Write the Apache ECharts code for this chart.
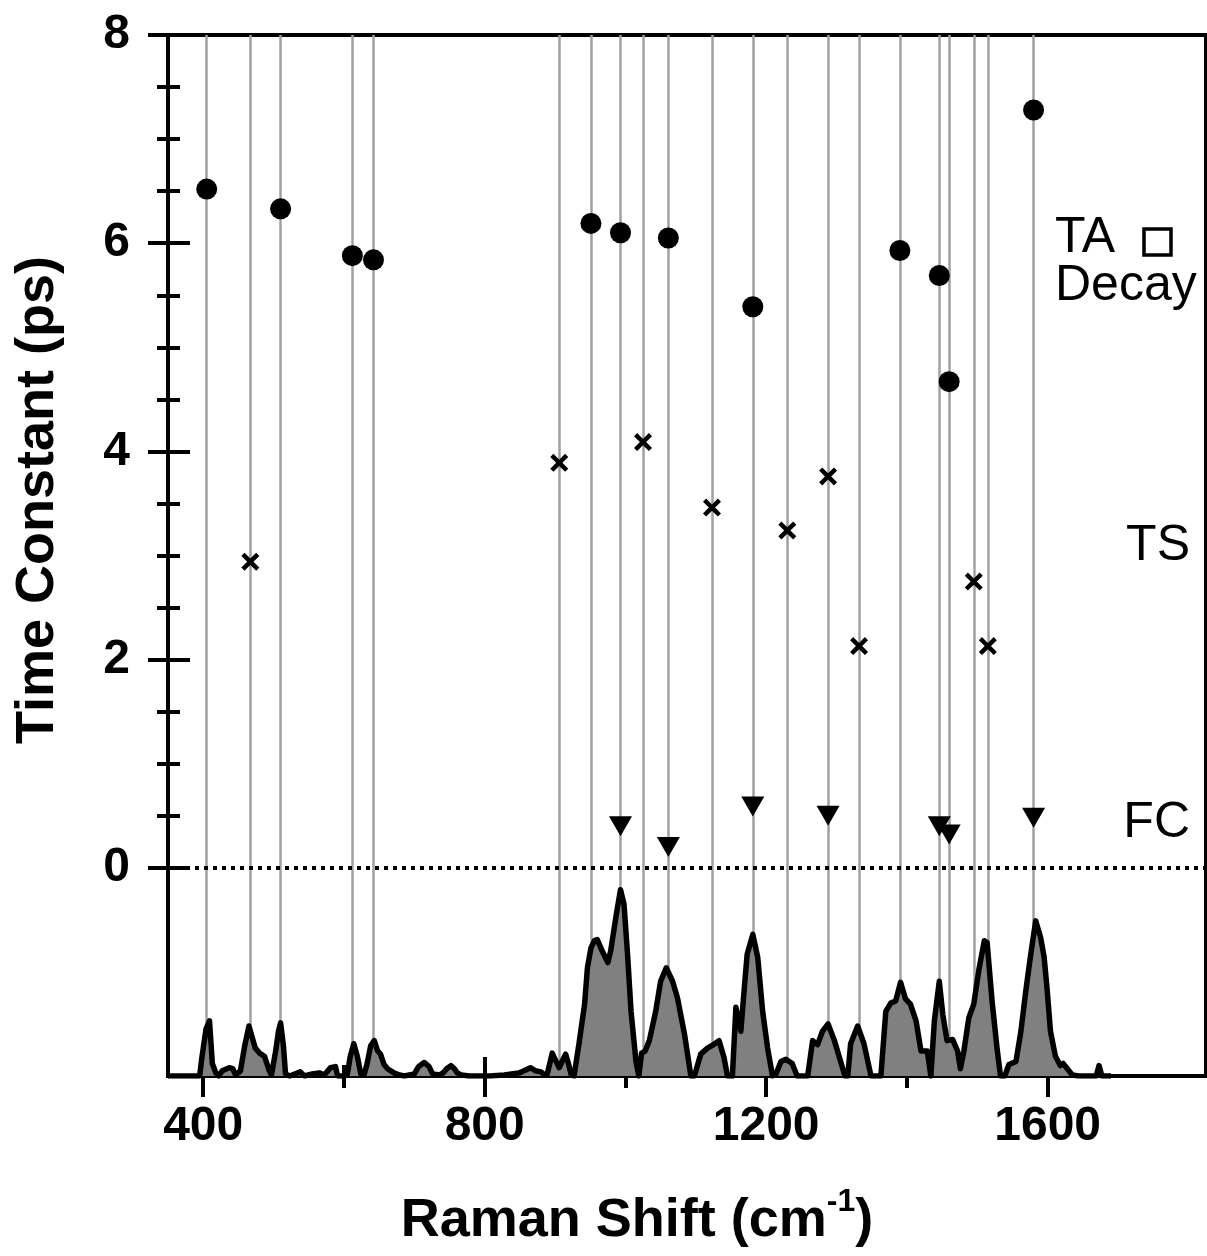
<!DOCTYPE html>
<html><head><meta charset="utf-8">
<script src="https://cdn.jsdelivr.net/npm/echarts@6/dist/echarts.min.js"></script>
<style>html,body{margin:0;padding:0;background:#fff}#c{width:1207px;height:1256px}</style>
</head><body><div id="c"></div>
<script>
// ---- data ----
const taDecayX = [405, 510, 612, 642, 951, 993, 1061, 1181, 1390, 1446, 1460, 1580];
const taDecayY = [6.52, 6.33, 5.88, 5.84, 6.19, 6.10, 6.05, 5.39, 5.93, 5.69, 4.67, 7.28];
const tsX = [467, 906, 1025, 1123, 1230, 1288, 1332, 1495, 1515];
const tsY = [2.94, 3.89, 4.09, 3.46, 3.24, 3.76, 2.13, 2.75, 2.13];
const fcX = [993, 1061, 1181, 1288, 1446, 1460, 1580];
const fcY = [0.40, 0.20, 0.59, 0.50, 0.40, 0.32, 0.48];
// Raman spectrum: [wavenumber, relative intensity]
const spectrum = [
 [350,0],[395,0],[398,0.17],[404,0.45],[409,0.53],[413,0.12],[418,0.03],[422,0],[427,0.05],[437,0.08],
 [442,0.07],[446,0.01],[453,0.05],[459,0.29],[465,0.48],[474,0.27],[480,0.22],[487,0.19],[494,0.05],[497,0.01],
 [503,0.24],[507,0.43],[510,0.51],[514,0.29],[517,0.02],[523,0],[538,0.04],[544,0],[555,0.02],[565,0.03],
 [572,0.01],[581,0.08],[588,0.09],[591,0],[601,0],[605,0.02],[609,0.19],[614,0.31],[619,0.19],[624,0.02],
 [629,0.02],[633,0.12],[638,0.29],[643,0.34],[648,0.24],[652,0.21],[657,0.11],[662,0.07],[671,0.03],[679,0.01],
 [686,0],[700,0.02],[706,0.09],[714,0.13],[721,0.09],[726,0.02],[736,0.01],[741,0.03],[746,0.07],[752,0.10],
 [757,0.07],[761,0.03],[767,0.01],[778,0],[807,0],[828,0.01],[838,0.02],[849,0.03],[856,0.05],[865,0.08],
 [872,0.05],[880,0.04],[885,0.01],[889,0.02],[896,0.22],[900,0.16],[906,0.08],[910,0.14],[915,0.21],[919,0.12],
 [923,0.01],[927,0],[934,0.31],[942,0.69],[946,1.04],[951,1.23],[956,1.30],[960,1.31],[967,1.20],[975,1.09],
 [979,1.20],[987,1.55],[993,1.79],[998,1.65],[1003,1.17],[1008,0.62],[1015,0.14],[1019,0],[1023,0.22],[1028,0.24],
 [1034,0.34],[1043,0.62],[1050,0.91],[1058,1.04],[1067,0.91],[1074,0.75],[1084,0.40],[1093,0],[1098,0],[1107,0.21],
 [1117,0.27],[1125,0.30],[1133,0.34],[1140,0.18],[1145,0],[1152,0],[1157,0.66],[1164,0.43],[1169,0.85],[1173,1.17],
 [1181,1.36],[1188,1.14],[1195,0.62],[1202,0.27],[1209,0],[1214,0.02],[1221,0.14],[1228,0.16],[1237,0.12],[1244,0],
 [1259,0],[1266,0.34],[1273,0.30],[1280,0.43],[1288,0.50],[1297,0.34],[1304,0.18],[1312,0],[1316,0],[1320,0.31],
 [1330,0.48],[1339,0.31],[1349,0],[1363,0],[1370,0.62],[1377,0.70],[1384,0.72],[1391,0.90],[1398,0.74],[1405,0.69],
 [1413,0.53],[1420,0.24],[1429,0.24],[1434,0],[1439,0.53],[1446,0.91],[1451,0.59],[1457,0.34],[1465,0.35],[1472,0.24],
 [1476,0.07],[1481,0.24],[1488,0.56],[1495,0.69],[1502,1.01],[1510,1.30],[1514,1.28],[1521,0.72],[1528,0.27],[1533,0],
 [1539,0],[1545,0.11],[1555,0.14],[1562,0.43],[1569,0.82],[1576,1.17],[1583,1.49],[1590,1.33],[1595,1.14],[1599,0.85],
 [1604,0.43],[1611,0.19],[1618,0.10],[1622,0.12],[1628,0.07],[1635,0.01],[1644,0],[1669,0],[1673,0.10],[1677,0],[1690,0]
];
const xMajorTicks = [400, 800, 1200, 1600];
const xMinorTicks = [600, 1000, 1400];
const yMajorTicks = [0, 2, 4, 6, 8];
const yMinorTicks = [0.5, 1, 1.5, 2.5, 3, 3.5, 4.5, 5, 5.5, 6.5, 7, 7.5];
const xAxisTitle = 'Raman Shift (cm';
const xAxisTitleSup = '-1';
const yAxisTitle = 'Time Constant (ps)';

// ---- chart ----
const FONT = '"Liberation Sans", Arial, Helvetica, sans-serif';
const X_MIN = 350, X_MAX = 1825, Y_MIN = -2, Y_MAX = 8;
const zip = (xs, ys) => xs.map((x, i) => [x, ys[i]]);
const markerXs = Array.from(new Set([...taDecayX, ...tsX, ...fcX])).sort((a, b) => a - b);

function tickAxis(kind, vals, len, inside, withLine, withLabels, labelMargin) {
  return {
    type: 'value', gridIndex: 0,
    min: kind === 'x' ? X_MIN : Y_MIN, max: kind === 'x' ? X_MAX : Y_MAX,
    position: kind === 'x' ? 'bottom' : 'left',
    splitLine: { show: false },
    axisLine: { show: withLine, onZero: false, lineStyle: { color: '#000', width: 4 } },
    axisTick: { show: true, customValues: vals, length: len, inside: inside, lineStyle: { color: '#000', width: 4 } },
    axisLabel: withLabels ? {
      show: true, customValues: vals, margin: labelMargin, color: '#000',
      fontSize: 48, fontWeight: 'bold', fontFamily: FONT,
      formatter: v => String(v)
    } : { show: false }
  };
}

const option = {
  animation: false,
  backgroundColor: '#fff',
  textStyle: { fontFamily: FONT },
  grid: { left: 168, top: 35, width: 1038, height: 1041, show: true, borderColor: '#000', borderWidth: 4, backgroundColor: 'transparent', containLabel: false },
  xAxis: [
    tickAxis('x', xMajorTicks, 21, false, true, true, 27),
    tickAxis('x', xMajorTicks, 19, true, false, false),
    tickAxis('x', xMinorTicks, 12, false, false, false),
    tickAxis('x', xMinorTicks, 11, true, false, false)
  ],
  yAxis: [
    tickAxis('y', yMajorTicks, 20, false, true, true, 38),
    tickAxis('y', yMajorTicks, 22, true, false, false),
    tickAxis('y', yMinorTicks, 11, false, false, false),
    tickAxis('y', yMinorTicks, 12, true, false, false),
    { type: 'value', gridIndex: 0, position: 'left', min: 0, max: Y_MAX - Y_MIN, show: false,
      axisLine: { onZero: false }, splitLine: { show: false } }
  ],
  series: [
    {
      name: 'spectrum', type: 'line', xAxisIndex: 0, yAxisIndex: 4,
      data: spectrum, showSymbol: false, symbol: 'none', z: 2, silent: true,
      lineStyle: { color: '#000', width: 5.5, join: 'round' },
      areaStyle: { color: '#808080', opacity: 1 }
    },
    {
      name: 'TA Decay', type: 'scatter', xAxisIndex: 0, yAxisIndex: 0,
      data: zip(taDecayX, taDecayY), symbol: 'circle', symbolSize: 21, z: 10,
      itemStyle: { color: '#000', opacity: 1 },
      markLine: {
        silent: true, symbol: 'none', z: 1, animation: false,
        label: { show: false },
        lineStyle: { color: '#a0a0a0', width: 2.5, type: 'solid', opacity: 1 },
        emphasis: { disabled: true },
        data: markerXs.map(v => ({ xAxis: v }))
      }
    },
    {
      name: 'TS', type: 'scatter', xAxisIndex: 0, yAxisIndex: 0,
      data: zip(tsX, tsY), z: 10,
      symbol: 'path://M0,3.5 L3.5,0 L10,6.5 L16.5,0 L20,3.5 L13.5,10 L20,16.5 L16.5,20 L10,13.5 L3.5,20 L0,16.5 L6.5,10 Z',
      symbolSize: 18, itemStyle: { color: '#000', opacity: 1 },
      markLine: {
        silent: true, symbol: 'none', z: 6, animation: false,
        label: { show: false },
        lineStyle: { color: '#000', width: 4, type: [4, 5], opacity: 1 },
        emphasis: { disabled: true },
        data: [{ yAxis: 0 }]
      }
    },
    {
      name: 'FC', type: 'scatter', xAxisIndex: 0, yAxisIndex: 0,
      data: zip(fcX, fcY), z: 10,
      symbol: 'triangle', symbolRotate: 180, symbolSize: [23, 20],
      itemStyle: { color: '#000', opacity: 1 }
    }
  ],
  graphic: [
    { type: 'text', x: 38, y: 500, rotation: Math.PI / 2,
      style: { text: yAxisTitle, fontSize: 54, fontWeight: 'bold', fontFamily: FONT, fill: '#000', align: 'center', verticalAlign: 'middle' } },
    { type: 'text', x: 637, y: 1221,
      style: { text: '{a|' + xAxisTitle + '}{s|' + xAxisTitleSup + '}{a|)}', align: 'center', verticalAlign: 'middle',
        rich: {
          a: { fontSize: 54, fontWeight: 'bold', fontFamily: FONT, fill: '#000', lineHeight: 70 },
          s: { fontSize: 32, fontWeight: 'bold', fontFamily: FONT, fill: '#000', lineHeight: 24, verticalAlign: 'top' }
        } } },
    { type: 'text', x: 1055, y: 238, style: { text: 'TA', fontSize: 50, fontFamily: FONT, fill: '#000', align: 'left', verticalAlign: 'middle' } },
    { type: 'rect', shape: { x: 1144, y: 229, width: 27, height: 26 }, style: { fill: 'none', stroke: '#000', lineWidth: 3.5 } },
    { type: 'text', x: 1055, y: 286, style: { text: 'Decay', fontSize: 50, fontFamily: FONT, fill: '#000', align: 'left', verticalAlign: 'middle' } },
    { type: 'text', x: 1190, y: 546, style: { text: 'TS', fontSize: 50, fontFamily: FONT, fill: '#000', align: 'right', verticalAlign: 'middle' } },
    { type: 'text', x: 1190, y: 823, style: { text: 'FC', fontSize: 50, fontFamily: FONT, fill: '#000', align: 'right', verticalAlign: 'middle' } }
  ]
};

const chart = echarts.init(document.getElementById('c'), null, { renderer: 'canvas' });
chart.setOption(option);
</script>
</body></html>
